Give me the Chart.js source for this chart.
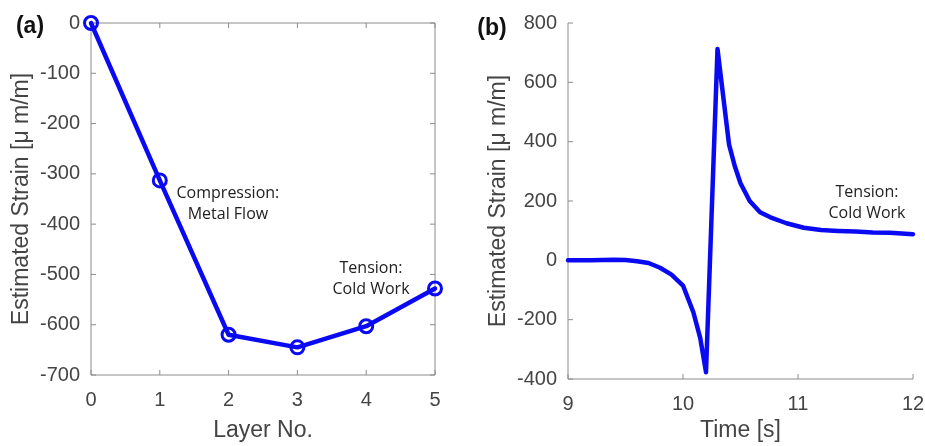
<!DOCTYPE html>
<html>
<head>
<meta charset="utf-8">
<script src="https://cdn.jsdelivr.net/npm/chart.js@4.4.1/dist/chart.umd.min.js"></script>
<style>
  html, body { margin: 0; padding: 0; background: #fff; }
  #wrap { position: relative; width: 925px; height: 446px; }
  .panel { position: absolute; top: 0; height: 446px; }
  #panelA { left: 0; width: 460px; }
  #panelB { left: 460px; width: 465px; }
</style>
</head>
<body>
<div id="wrap">
  <div class="panel" id="panelA"><canvas id="chartA"></canvas></div>
  <div class="panel" id="panelB"><canvas id="chartB"></canvas></div>
</div>
<script>
// panel (a): strain per layer
const layers = [0, 1, 2, 3, 4, 5];
const layerStrain = [0, -313, -620, -645, -603, -528];
const layerTicks = [0, 1, 2, 3, 4, 5];
const strainTicksA = [0, -100, -200, -300, -400, -500, -600, -700];

// panel (b): strain over time
const timeVals = [9.0, 9.2, 9.4, 9.5, 9.6, 9.7, 9.8, 9.9, 10.0, 10.09, 10.15, 10.2, 10.3,
    10.4, 10.45, 10.5, 10.58, 10.67, 10.76, 10.9, 11.05, 11.2, 11.35, 11.5, 11.65, 11.8, 12.0];
const timeStrain = [0, 0, 2, 1, -3, -9, -25, -48, -85, -175, -262, -377, 712,
    391, 318, 260, 200, 162, 145, 125, 110, 102, 99, 97, 94, 93, 88];
const timeTicks = [9, 10, 11, 12];
const strainTicksB = [-400, -200, 0, 200, 400, 600, 800];

const BLUE = '#0a0af2';
const AXIS = '#8c8c8c';
const TEXT = '#444444';
const FONT = "'Liberation Sans', Arial, sans-serif";

// draws the matlab style axes with inward ticks
const frame = {
    id: 'frame',
    beforeDatasetsDraw(chart, args, opts) {
        const ctx = chart.ctx;
        const a = chart.chartArea;
        const xs = chart.scales.x, ys = chart.scales.y;
        const len = 5;
        ctx.save();
        ctx.strokeStyle = AXIS;
        ctx.lineWidth = 1;
        ctx.beginPath();
        ctx.moveTo(a.left, a.top);
        ctx.lineTo(a.left, a.bottom);
        ctx.lineTo(a.right, a.bottom);
        if (opts.box) {
            ctx.lineTo(a.right, a.top);
            ctx.lineTo(a.left, a.top);
        }
        xs.ticks.forEach(t => {
            const px = xs.getPixelForValue(t.value);
            ctx.moveTo(px, a.bottom);
            ctx.lineTo(px, a.bottom - len);
            if (opts.box) {
                ctx.moveTo(px, a.top);
                ctx.lineTo(px, a.top + len);
            }
        });
        ys.ticks.forEach(t => {
            const py = ys.getPixelForValue(t.value);
            ctx.moveTo(a.left, py);
            ctx.lineTo(a.left + len, py);
            if (opts.box) {
                ctx.moveTo(a.right, py);
                ctx.lineTo(a.right - len, py);
            }
        });
        ctx.stroke();
        ctx.restore();
    },
    afterDraw(chart, args, opts) {
        const ctx = chart.ctx;
        ctx.save();
        // panel letter
        ctx.fillStyle = '#111';
        ctx.font = "bold 23px " + FONT;
        ctx.textAlign = 'center';
        ctx.textBaseline = 'middle';
        ctx.fillText(opts.letter[0], opts.letter[1], opts.letter[2]);
        // notes
        ctx.font = "16px 'Open Sans', sans-serif";
        ctx.fillStyle = '#222';
        (opts.notes || []).forEach(n => {
            const px = chart.scales.x.getPixelForValue(n.x);
            const py = chart.scales.y.getPixelForValue(n.y);
            ctx.fillText(n.lines[0], px, py - 10.5);
            ctx.fillText(n.lines[1], px, py + 10.5);
        });
        ctx.restore();
    }
};

function axisOptions(min, max, ticks, title, size, titlePad, isY) {
    return {
        type: 'linear',
        min: min,
        max: max,
        afterBuildTicks: (scale) => { scale.ticks = ticks.map(v => ({value: v})); },
        afterFit: (scale) => {
            if (isY) {
                scale.width = size;
            } else {
                scale.height = size;
                scale.paddingLeft = 0;
                scale.paddingRight = 0;
            }
        },
        grid: {display: false, drawTicks: false},
        border: {display: false},
        ticks: {
            color: TEXT,
            font: {family: FONT, size: 20},
            padding: isY ? 11 : 13
        },
        title: {
            display: true,
            text: title,
            color: TEXT,
            font: {family: FONT, size: 23},
            padding: isY ? {top: titlePad, bottom: 0} : {top: 0, bottom: titlePad}
        }
    };
}

function makeChart(id, xv, yv, cfg) {
    const points = xv.map((x, i) => ({x: x, y: yv[i]}));
    return new Chart(document.getElementById(id), {
        type: 'line',
        data: {
            datasets: [{
                data: points,
                borderColor: BLUE,
                borderWidth: 4.5,
                tension: 0,
                borderCapStyle: 'round',
                borderJoinStyle: 'round',
                pointRadius: cfg.markers ? 6.5 : 0,
                pointBorderWidth: 3,
                pointBorderColor: BLUE,
                pointBackgroundColor: 'rgba(0,0,0,0)',
                clip: false
            }]
        },
        options: {
            responsive: true,
            maintainAspectRatio: false,
            animation: false,
            events: [],
            layout: {padding: cfg.padding},
            plugins: {
                legend: {display: false},
                tooltip: {enabled: false},
                frame: {box: cfg.box, letter: cfg.letter, notes: cfg.notes}
            },
            scales: {
                x: axisOptions(cfg.xMin, cfg.xMax, cfg.xTicks, cfg.xTitle, cfg.xHeight, 2, false),
                y: axisOptions(cfg.yMin, cfg.yMax, cfg.yTicks, cfg.yTitle, cfg.yWidth, cfg.yTitlePad, true)
            }
        },
        plugins: [frame]
    });
}

makeChart('chartA', layers, layerStrain, {
    markers: true, box: true,
    xMin: 0, xMax: 5, xTicks: layerTicks, xTitle: 'Layer No.',
    yMin: -700, yMax: 0, yTicks: strainTicksA, yTitle: 'Estimated Strain [\u03BC m/m]',
    yWidth: 91, xHeight: 71, yTitlePad: 8,
    padding: {left: 0, right: 25, top: 12, bottom: 0},
    letter: ['(a)', 30, 27],
    notes: [
        {x: 1.99, y: -360, lines: ['Compression:', 'Metal Flow']},
        {x: 4.07, y: -508, lines: ['Tension:', 'Cold Work']}
    ]
});

makeChart('chartB', timeVals, timeStrain, {
    markers: false, box: false,
    xMin: 9, xMax: 12, xTicks: timeTicks, xTitle: 'Time [s]',
    yMin: -400, yMax: 800, yTicks: strainTicksB, yTitle: 'Estimated Strain [\u03BC m/m]',
    yWidth: 108, xHeight: 67, yTitlePad: 25,
    padding: {left: 0, right: 12, top: 14, bottom: 0},
    letter: ['(b)', 32, 29],
    notes: [
        {x: 11.60, y: 193, lines: ['Tension:', 'Cold Work']}
    ]
});
</script>
</body>
</html>
